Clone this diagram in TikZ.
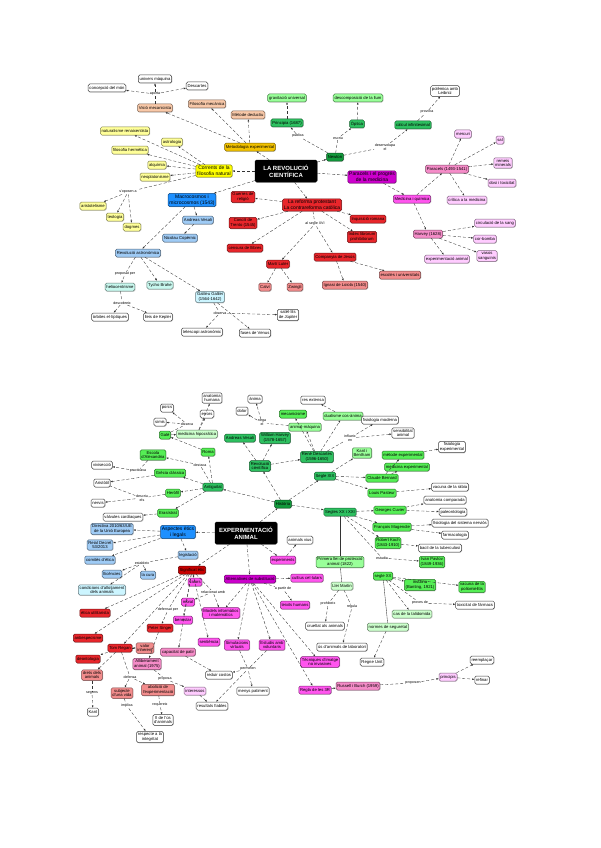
\documentclass[tikz,border=0pt]{standalone}
\usepackage{fontspec}
\setmainfont{Liberation Sans}
\usetikzlibrary{arrows.meta,shadows}
\definecolor{cYel}{HTML}{FFFF00}
\definecolor{cLYel}{HTML}{FFFF99}
\definecolor{cGold}{HTML}{F2C200}
\definecolor{cPeach}{HTML}{F8C8A8}
\definecolor{cRed}{HTML}{E8262B}
\definecolor{cDRed}{HTML}{C80000}
\definecolor{cLRed}{HTML}{F28C8C}
\definecolor{cMag}{HTML}{CC00CC}
\definecolor{cBMag}{HTML}{FF55EE}
\definecolor{cPink}{HTML}{F58CC8}
\definecolor{cLPink}{HTML}{FFCCFF}
\definecolor{cDGreen}{HTML}{129A3C}
\definecolor{cGreen}{HTML}{2DC060}
\definecolor{cBGreen}{HTML}{55EE55}
\definecolor{cLGreen}{HTML}{99FF99}
\definecolor{cPGreen}{HTML}{CCFFCC}
\definecolor{cBlue}{HTML}{1E90FF}
\definecolor{cLBlue}{HTML}{9FCBF5}
\definecolor{cCyan}{HTML}{CCF5FF}
\definecolor{cTeal}{HTML}{C8F8EE}
\tikzset{
  box/.style={rectangle, rounded corners=1.5pt, line width=0.5pt, inner sep=1.3pt,
    minimum height=8pt, align=center, font=\fontsize{4.2}{4.8}\selectfont,
    drop shadow={shadow xshift=0.6pt, shadow yshift=-0.6pt, opacity=0.4}},
  bx/.style={box, fill=#1, draw=#1!50!black},
  wbx/.style={box, fill=white, draw=black!75},
  blk/.style={box, fill=black, draw=black, text=white, inner sep=2.5pt,
    minimum width=62pt, minimum height=22pt, font=\bfseries\fontsize{6}{7}\selectfont},
  big/.style={font=\fontsize{5}{5.8}\selectfont},
  lw/.style={inner sep=0.6pt, align=center, font=\fontsize{3.6}{4}\selectfont},
  ln/.style={densely dashed, line width=0.35pt, black!80},
  ar/.style={ln, -{Latex[length=2.2pt,width=1.8pt]}},
}
\begin{document}
\begin{tikzpicture}[x=1pt,y=-1pt]
\useasboundingbox[fill=white] (0,0) rectangle (600,848);
% top map
\path
  (286,171) node[blk] (rc) {LA REVOLUCIÓ\\CIENTÍFICA}
  (214,171) node[bx=cYel,big] (cfn) {Corrents de la\\filosofia natural}
  (250,147) node[bx=cGold] (met) {Metodologia experimental}
  (155,108) node[bx=cPeach] (mec) {Visió mecanicista}
  (207,104) node[bx=cPeach] (fm) {Filosofia mecànica}
  (248,115) node[bx=cPeach] (rac) {Mètode deductiu}
  (155,79) node[wbx] (um) {univers màquina}
  (107,88) node[wbx] (cm) {concepció del món}
  (197,86) node[wbx] (dsc) {Descartes}
  (155,94) node[lw] (l1) {aporta}
  (125,131) node[bx=cLYel] (y1) {naturalisme renaixentista}
  (172,142) node[bx=cLYel] (y2) {astrologia}
  (130,150) node[bx=cLYel] (y3) {filosofia hermètica}
  (157,165) node[bx=cLYel] (y4) {alquímia}
  (155,177) node[bx=cLYel] (y5) {neoplatonisme}
  (128,192) node[lw] (l2) {s'oposen a}
  (93,206) node[bx=cLYel] (y6) {aristotelisme}
  (115,217) node[bx=cLYel] (y7) {teologia}
  (132,227) node[bx=cLYel] (y8) {dogmes};
\path
  (192,200) node[bx=cBlue,big] (mac) {Macrocosmos i\\microcosmos (1543)}
  (198,220) node[bx=cLBlue] (ves) {Andreas Vesali}
  (180,238) node[bx=cLBlue] (cop) {Nicolau Copèrnic}
  (138,253) node[bx=cLBlue] (rast) {Revolució astronòmica}
  (125,274) node[lw] (l3) {proposat per}
  (120,287) node[bx=cTeal] (hel) {heliocentrisme}
  (160,285) node[bx=cTeal] (tyc) {Tycho Brahe}
  (210,297) node[bx=cCyan] (gal) {Galileu Galilei\\(1564-1642)}
  (122,303) node[lw] (l4) {descobreix}
  (110,317) node[wbx] (orb) {òrbites el·líptiques}
  (158,317) node[wbx] (lk) {lleis de Kepler}
  (220,313) node[lw] (l5) {observa}
  (202,332) node[wbx] (tel) {telescopi astronòmic}
  (288,315) node[wbx] (sat) {satèl·lits\\de Júpiter}
  (255,333) node[wbx] (ven) {fases de Venus};
\path
  (312,205) node[bx=cRed,big] (ref) {La reforma protestant\\La contrareforma catòlica}
  (243,197) node[bx=cRed] (gue) {Guerres de\\religió}
  (243,223) node[bx=cRed] (tre) {Concili de\\Trento (1545)}
  (245,248) node[bx=cRed] (cen) {censura de llibres}
  (368,219) node[bx=cRed] (inq) {Inquisició romana}
  (362,237) node[bx=cRed] (idx) {Index librorum\\prohibitorum}
  (315,224) node[lw] (l6) {al segle XVI}
  (278,264) node[bx=cRed] (lut) {Martí Luter}
  (335,257) node[bx=cRed] (jes) {Companyia de Jesús}
  (265,287) node[bx=cLRed] (cal) {Calví}
  (295,287) node[bx=cLRed] (zwi) {Zwingli}
  (345,285) node[bx=cLRed] (loi) {Ignasi de Loiola (1540)}
  (400,275) node[bx=cLRed] (esc) {escoles i universitats};
\path
  (335,157) node[bx=cDGreen] (nwt) {Newton}
  (287,123) node[bx=cGreen] (pri) {Principia (1687)}
  (287,98) node[bx=cLGreen] (grv) {gravitació universal}
  (357,124) node[bx=cGreen] (opt) {Òptica}
  (358,98) node[bx=cLGreen] (llu) {descomposició de la llum}
  (413,125) node[bx=cGreen] (clc) {càlcul infinitesimal}
  (445,91) node[wbx] (pol) {polèmica amb\\Leibniz}
  (298,136) node[lw] (l7) {publica}
  (338,138) node[lw] (l8) {escriu}
  (385,147) node[lw] (l9) {desenvolupa\\el}
  (427,112) node[lw] (l10) {provoca};
\path
  (372,177) node[bx=cMag,big] (par) {Paracels i el progrés\\de la medicina}
  (412,199) node[bx=cBMag] (mq) {Medicina i química}
  (447,169) node[bx=cPink] (prc) {Paracels (1493-1541)}
  (463,134) node[bx=cLPink] (p1) {mercuri}
  (500,140) node[bx=cLPink] (p2) {sal}
  (503,163) node[bx=cLPink] (p3) {remeis\\minerals}
  (502,183) node[bx=cLPink] (p4) {dosi i toxicitat}
  (467,200) node[bx=cLPink] (p5) {crítica a la medicina}
  (428,234) node[bx=cPink] (hrv) {Harvey (1628)}
  (495,223) node[bx=cLPink] (h1) {circulació de la sang}
  (485,239) node[bx=cLPink] (h2) {cor-bomba}
  (487,256) node[bx=cLPink] (h3) {vasos\\sanguinis}
  (447,259) node[bx=cLPink] (h4) {experimentació animal};
\begin{scope}[ar]
  \draw (rc) to (cfn);
  \draw (rc) to (met);
  \draw (rc) to (nwt);
  \draw (rc) to (par);
  \draw (rc) to (ref);
  \draw (rc) to (mac);
  \draw (met) to (rac);
  \draw (met) to (mec);
  \draw (met) to (fm);
  \draw (l1) to (um);
  \draw (l1) to (cm);
  \draw (l1) to (dsc);
  \draw (cfn) to (y1);
  \draw (cfn) to (y2);
  \draw (cfn) to (y3);
  \draw (cfn) to (y4);
  \draw (cfn) to (y5);
  \draw (l2) to (y6);
  \draw (l2) to (y7);
  \draw (l2) to (y8);
  \draw (mac) to (ves);
  \draw (ves) to (cop);
  \draw (mac) to (rast);
  \draw (l3) to (hel);
  \draw (rast) to (tyc);
  \draw (rast) to (gal);
  \draw (l4) to (orb);
  \draw (l4) to (lk);
  \draw (l5) to (sat);
  \draw (l5) to (tel);
  \draw (gal) to (ven);
  \draw (ref) to (gue);
  \draw (ref) to (tre);
  \draw (ref) to (cen);
  \draw (ref) to (inq);
  \draw (ref) to (idx);
  \draw (l6) to (lut);
  \draw (l6) to (jes);
  \draw (lut) to (cal);
  \draw (lut) to (zwi);
  \draw (jes) to (loi);
  \draw (jes) to (esc);
  \draw (l7) to (pri);
  \draw (pri) to (grv);
  \draw (l8) to (opt);
  \draw (opt) to (llu);
  \draw (l9) to (clc);
  \draw (l10) to (pol);
  \draw (par) to (mq);
  \draw (mq) to (prc);
  \draw (mq) to (hrv);
  \draw (prc) to (p1);
  \draw (prc) to (p2);
  \draw (prc) to (p3);
  \draw (prc) to (p4);
  \draw (prc) to (p5);
  \draw (hrv) to (h1);
  \draw (hrv) to (h2);
  \draw (hrv) to (h3);
  \draw (hrv) to (h4);
\end{scope}
\begin{scope}[ln]
  \draw (mec) to (l1);
  \draw (cfn) to (l2);
  \draw (rast) to (l3);
  \draw (hel) to (l4);
  \draw (gal) to (l5);
  \draw (ref) to (l6);
  \draw (nwt) to (l7);
  \draw (nwt) to (l8);
  \draw (nwt) to (l9);
  \draw (clc) to (l10);
\end{scope}
% bottom map
\path
  (246,533) node[blk] (exa) {EXPERIMENTACIÓ\\ANIMAL}
  (283,504) node[bx=cDGreen] (his) {Història}
  (213,487) node[bx=cGreen] (ant) {Antiguitat}
  (260,466) node[bx=cGreen] (rci) {Revolució\\científica}
  (325,476) node[bx=cGreen] (s19) {Segle XIX}
  (340,512) node[bx=cGreen] (s20) {Segles XX i XXI}
  (240,438) node[bx=cGreen] (ve2) {Andreas Vesali}
  (275,438) node[bx=cGreen] (hv2) {William Harvey\\(1578-1657)}
  (317,457) node[bx=cGreen] (de2) {René Descartes\\(1596-1650)}
  (293,414) node[bx=cBGreen] (mca) {mecanicisme}
  (305,427) node[bx=cLGreen] (amq) {animal-màquina}
  (343,416) node[bx=cLGreen] (dua) {dualisme cos-ànima}
  (313,400) node[wbx] (rex) {res extensa}
  (255,399) node[wbx] (ani) {ànima}
  (242,411) node[wbx] (dol) {dolor}
  (262,423) node[lw] (m1) {nega\\el}
  (350,438) node[lw] (m2) {influeix\\en}
  (380,420) node[wbx] (fmo) {fisiologia moderna}
  (403,433) node[wbx] (sen) {sensibilitat\\animal}
  (362,453) node[bx=cLGreen] (kb) {Kant i\\Bentham};
\path
  (165,435) node[bx=cBGreen] (gln) {Galè}
  (197,434) node[bx=cPGreen] (hip) {medicina hipocràtica}
  (167,408) node[wbx] (prc2) {porcs}
  (160,422) node[wbx] (sim) {simis}
  (187,424) node[lw] (m3) {disseca}
  (212,398) node[wbx] (anh) {anatomia\\humana}
  (207,414) node[wbx] (err) {errors}
  (208,452) node[bx=cBGreen] (rom) {Roma}
  (153,455) node[bx=cBGreen] (alx) {Escola\\d'Alexandria}
  (200,465) node[lw] (m4) {destaca}
  (102,465) node[wbx] (viv) {vivisecció}
  (138,471) node[lw] (m5) {practicava}
  (170,473) node[bx=cBGreen] (gre) {Grècia clàssica}
  (102,483) node[wbx] (ari) {Aristòtil}
  (173,493) node[bx=cBGreen] (her) {Heròfil}
  (142,498) node[lw] (m6) {descriu\\els}
  (98,503) node[wbx] (ner) {nervis}
  (168,513) node[bx=cBGreen] (era) {Erasístrat}
  (123,517) node[wbx] (val) {vàlvules cardíaques};
\path
  (382,478) node[bx=cBGreen] (cbe) {Claude Bernard}
  (403,455) node[bx=cBGreen] (mex) {mètode experimental}
  (407,467) node[bx=cBGreen] (mdx) {medicina experimental}
  (452,447) node[wbx] (fex) {fisiologia\\experimental}
  (382,493) node[bx=cBGreen] (pas) {Louis Pasteur}
  (450,487) node[wbx] (rab) {vacuna de la ràbia}
  (390,510) node[bx=cBGreen] (cuv) {Georges Cuvier}
  (445,500) node[wbx] (acp) {anatomia comparada}
  (453,512) node[wbx] (pal) {paleontologia}
  (392,527) node[bx=cBGreen] (mag) {François Magendie}
  (460,523) node[wbx] (snv) {fisiologia del sistema nerviós}
  (455,535) node[wbx] (frm) {farmacologia}
  (388,543) node[bx=cBGreen] (koc) {Robert Koch\\(1843-1910)}
  (440,548) node[wbx] (tub) {bacil de la tuberculosi}
  (432,562) node[bx=cBGreen] (pav) {Ivan Pavlov\\(1849-1936)}
  (382,558) node[lw] (m7) {estudia}
  (383,576) node[bx=cBGreen] (sxx) {segle XX}
  (420,585) node[bx=cBGreen] (ins) {insulina\\(Banting, 1921)}
  (472,587) node[bx=cBGreen] (pol2) {vacuna de la\\poliomielitis}
  (420,603) node[lw] (m8) {proves de}
  (475,605) node[wbx] (tox) {toxicitat de fàrmacs}
  (412,614) node[bx=cPGreen] (tal) {cas de la talidomida}
  (388,627) node[bx=cPGreen] (nor) {normes de seguretat}
  (340,562) node[bx=cLGreen] (lle) {Primera llei de protecció\\animal (1822)}
  (342,586) node[bx=cPGreen] (lma) {Llei Martin}
  (328,604) node[lw] (m9) {prohibeix}
  (352,607) node[lw] (m10) {regula}
  (325,626) node[wbx] (cru) {crueltat als animals}
  (342,647) node[wbx] (usl) {ús d'animals de laboratori}
  (372,662) node[wbx] (ru) {Regne Unit};
\path
  (283,560) node[bx=cBMag] (exm) {experiments}
  (300,540) node[wbx] (avi) {animals vius}
  (250,579) node[bx=cMag] (alt) {Alternatives de substitució}
  (307,578) node[bx=cBMag] (cul) {cultius cel·lulars}
  (283,589) node[lw] (m11) {a partir de}
  (295,605) node[bx=cBMag] (tei) {teixits humans}
  (221,613) node[bx=cBMag] (mod) {Models informàtics\\i matemàtics}
  (237,645) node[bx=cBMag] (smv) {Simulacions\\virtuals}
  (272,645) node[bx=cBMag] (vol) {Estudis amb\\voluntaris}
  (248,669) node[lw] (m12) {permeten}
  (219,675) node[wbx] (igu) {reduir costos}
  (253,691) node[wbx] (mpa) {menys patiment}
  (212,706) node[wbx] (rfi) {resultats fiables}
  (320,662) node[bx=cBMag] (img) {Tècniques d'imatge\\no invasives}
  (315,690) node[bx=cBMag] (r3) {Regla de les 3R}
  (358,686) node[bx=cPink] (rb) {Russell i Burch (1959)}
  (413,683) node[lw] (m13) {proposen}
  (448,677) node[bx=cLPink] (pri2) {principis}
  (482,660) node[wbx] (ree) {reemplaçar}
  (482,680) node[wbx] (ref2) {refinar};
\path
  (192,570) node[bx=cDRed] (sig) {Significat ètic}
  (195,582) node[bx=cBMag] (vlr) {valors}
  (213,592) node[lw] (m14) {relacionat amb}
  (188,602) node[bx=cBMag] (mor) {moral}
  (183,620) node[bx=cBMag] (ben) {benestar}
  (209,642) node[bx=cBMag] (snt) {sentiència}
  (178,652) node[bx=cPink] (pat) {capacitat de patir}
  (168,610) node[lw] (m15) {defensat per}
  (160,628) node[bx=cRed] (sng) {Peter Singer}
  (95,613) node[bx=cRed] (utl) {ètica utilitarista}
  (88,638) node[bx=cRed] (aes) {antiespecisme}
  (120,648) node[bx=cRed] (reg) {Tom Regan}
  (88,659) node[bx=cRed] (deo) {deontologia}
  (145,648) node[bx=cLRed] (vin) {valor\\inherent}
  (147,664) node[bx=cPink] (all) {Alliberament\\animal (1975)}
  (92,675) node[bx=cLRed] (dre) {drets dels\\animals}
  (130,677) node[lw] (m16) {defensa}
  (165,679) node[lw] (m17) {proposa}
  (92,693) node[lw] (m18) {segons}
  (122,693) node[bx=cLRed] (sub) {subjecte\\d'una vida}
  (158,690) node[bx=cLRed] (abo) {abolició de\\l'experimentació}
  (195,691) node[bx=cLPink] (int) {interessos}
  (127,706) node[lw] (m19) {implica}
  (160,705) node[lw] (m20) {requereix}
  (93,712) node[wbx] (knt) {Kant}
  (163,720) node[wbx] (fiu) {fi de l'ús\\d'animals}
  (150,737) node[wbx] (rsp) {respecte a la\\integritat};
\path
  (178,532) node[bx=cBlue,big] (etl) {Aspectes ètics\\i legals}
  (112,529) node[bx=cLBlue] (dir) {Directiva 2010/63/UE\\de la Unió Europea}
  (100,545) node[bx=cLBlue] (rd) {Reial Decret\\53/2013}
  (100,560) node[bx=cLBlue] (cme) {comitès d'ètica}
  (188,555) node[bx=cLBlue] (leg) {legislació}
  (142,563) node[lw] (m21) {estableix}
  (112,574) node[bx=cLBlue] (lic) {llicències}
  (148,575) node[bx=cLBlue] (cur) {la cura}
  (102,590) node[bx=cCyan] (cnd) {condicions d'allotjament\\dels animals};
\begin{scope}[ar]
  \draw (exa) to (his);
  \draw (exa) to (etl);
  \draw (exa) to (sig);
  \draw (exa) to (alt);
  \draw (exa) to (exm);
  \draw (exm) to (avi);
  \draw (his) to (ant);
  \draw (his) to (rci);
  \draw (his) to (s19);
  \draw (his) to (s20);
  \draw (ant) to (her);
  \draw (ant) to (era);
  \draw (ant) to (gre);
  \draw (ant) to (rom);
  \draw (rom) to (gln);
  \draw (gln) to (hip);
  \draw (m3) to (prc2);
  \draw (m3) to (sim);
  \draw (hip) to (anh);
  \draw (hip) to (err);
  \draw (m4) to (alx);
  \draw (m5) to (viv);
  \draw (gre) to (ari);
  \draw (m6) to (ner);
  \draw (era) to (val);
  \draw (rci) to (ve2);
  \draw (rci) to (hv2);
  \draw (rci) to (de2);
  \draw (de2) to (mca);
  \draw (de2) to (amq);
  \draw (de2) to (dua);
  \draw (m1) to (dol);
  \draw (m1) to (ani);
  \draw (dua) to (rex);
  \draw (m2) to (fmo);
  \draw (m2) to (sen);
  \draw (s19) to (kb);
  \draw (s19) to (cbe);
  \draw (s19) to (pas);
  \draw (cbe) to (mex);
  \draw (cbe) to (mdx);
  \draw (mex) to (fex);
  \draw (pas) to (rab);
  \draw (s20) to (cuv);
  \draw (s20) to (mag);
  \draw (s20) to (koc);
  \draw (cuv) to (acp);
  \draw (cuv) to (pal);
  \draw (mag) to (snv);
  \draw (mag) to (frm);
  \draw (koc) to (tub);
  \draw (m7) to (pav);
  \draw (sxx) to (ins);
  \draw (sxx) to (pol2);
  \draw (m8) to (tox);
  \draw (sxx) to (tal);
  \draw (m9) to (cru);
  \draw (m10) to (usl);
  \draw (nor) to (ru);
  \draw (alt) to (cul);
  \draw (m11) to (tei);
  \draw (alt) to (mod);
  \draw (alt) to (smv);
  \draw (alt) to (vol);
  \draw (alt) to (img);
  \draw (alt) to (r3);
  \draw (m12) to (igu);
  \draw (m12) to (mpa);
  \draw (m12) to (rfi);
  \draw (r3) to (rb);
  \draw (m13) to (pri2);
  \draw (pri2) to (ree);
  \draw (pri2) to (ref2);
  \draw (sig) to (vlr);
  \draw (m14) to (mor);
  \draw (m14) to (mod);
  \draw (sig) to (ben);
  \draw (sig) to (snt);
  \draw (sig) to (pat);
  \draw (sig) to (utl);
  \draw (sig) to (aes);
  \draw (sig) to (reg);
  \draw (m15) to (sng);
  \draw (sng) to (all);
  \draw (reg) to (vin);
  \draw (reg) to (deo);
  \draw (reg) to (dre);
  \draw (m16) to (sub);
  \draw (m16) to (abo);
  \draw (m17) to (int);
  \draw (pat) to (igu);
  \draw (int) to (rfi);
  \draw (m20) to (fiu);
  \draw (m19) to (rsp);
  \draw (m18) to (knt);
  \draw (etl) to (dir);
  \draw (etl) to (rd);
  \draw (etl) to (cme);
  \draw (etl) to (leg);
  \draw (m21) to (lic);
  \draw (m21) to (cur);
  \draw (m21) to (cnd);
\end{scope}
\begin{scope}[ln]
  \draw (gln) to (m3);
  \draw (ant) to (m4);
  \draw (alx) to (m5);
  \draw (her) to (m6);
  \draw (m6) to (ari);
  \draw (amq) to (m1);
  \draw (de2) to (m2);
  \draw (s20) to (m7);
  \draw (sxx) to (m8);
  \draw (lma) to (m9);
  \draw (lma) to (m10);
  \draw (alt) to (m11);
  \draw (smv) to (m12);
  \draw (vol) to (m12);
  \draw (rb) to (m13);
  \draw (sig) to (m14);
  \draw (sig) to (m15);
  \draw (reg) to (m16);
  \draw (all) to (m17);
  \draw (abo) to (m20);
  \draw (sub) to (m19);
  \draw (dre) to (m18);
  \draw (leg) to (m21);
  \draw[solid] (s20) to (lle);
  \draw[solid] (lle) to (lma);
  \draw[solid] (sxx) to (nor);
\end{scope}
\end{tikzpicture}
\end{document}
